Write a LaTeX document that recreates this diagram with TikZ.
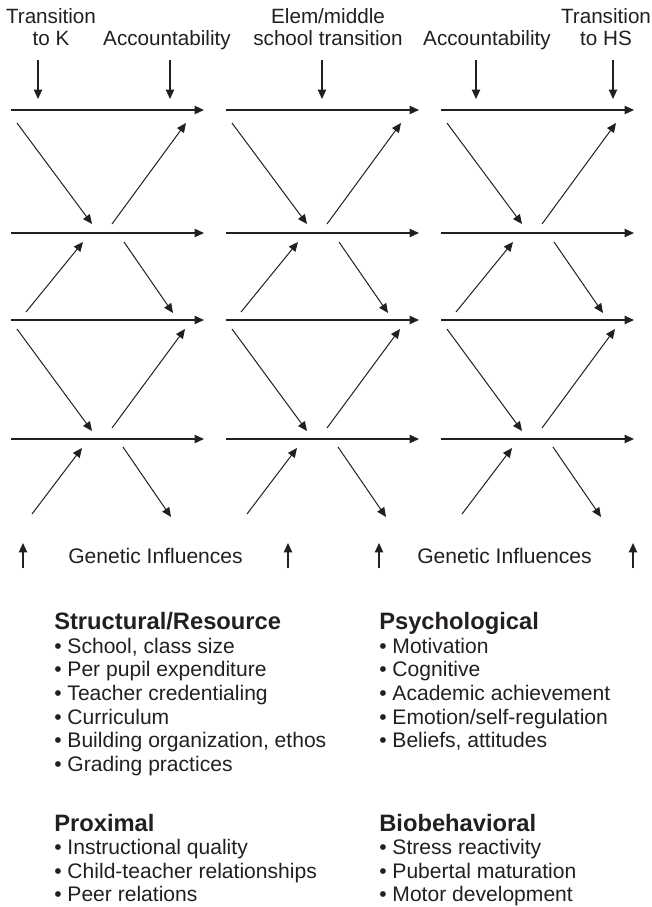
\documentclass[tikz,border=0pt]{standalone}
\usepackage{fontspec}
\setmainfont{Liberation Sans}
\usetikzlibrary{arrows.meta}
\definecolor{ink}{RGB}{35,31,32}
\begin{document}
\begin{tikzpicture}[x=0.75pt,y=-0.75pt,
  tip/.style={-{Triangle[length=7pt,width=6.2pt]}},
  flow/.style={tip, line width=1pt, draw=ink},
  link/.style={tip, line width=0.75pt, draw=ink},
  cue/.style={tip, line width=0.9pt, draw=ink},
  lbl/.style={inner sep=0pt, text=ink, font=\fontsize{15.5}{15.8}\selectfont},
  head/.style={inner sep=0pt, anchor=base west, text=ink, font=\fontsize{17.8}{20}\selectfont\bfseries},
  item/.style={inner sep=0pt, anchor=base west, text=ink, font=\fontsize{15.8}{17}\selectfont}]
\useasboundingbox (0,0) rectangle (651,907);

% three time windows, each with four developmental strands
\foreach \k/\dx in {1/0, 2/215, 3/430} {
  \foreach \r/\y in {1/110, 2/233, 3/320, 4/439} {
    \coordinate (w\k-\r-s) at (11+\dx,\y);
    \coordinate (w\k-\r-e) at (204+\dx,\y);
    \draw[flow] (w\k-\r-s) -- (w\k-\r-e);
  }
  % cross-strand influences
  \foreach \a/\b/\c/\d [count=\j] in {17/123/92/224, 112/224/186/123,
      26/312/83/242, 124/242/173/313, 17/329/92/431, 112/428/185/329,
      32/514/82/448, 123/447/171/517} {
    \coordinate (w\k-d\j-a) at (\a+\dx,\b);
    \coordinate (w\k-d\j-b) at (\c+\dx,\d);
    \draw[link] (w\k-d\j-a) -- (w\k-d\j-b);
  }
}

% school transitions and policy events
\node[lbl, anchor=base, align=center] (tk) at (51,45) {Transition\\to K};
\node[lbl, anchor=base] (acc1) at (167,45) {Accountability};
\node[lbl, anchor=base, align=center] (ems) at (328,45) {Elem/middle\\school transition};
\node[lbl, anchor=base] (acc2) at (487,45) {Accountability};
\node[lbl, anchor=base, align=center] (ths) at (606,45) {Transition\\to HS};

\foreach \n/\x in {a/38, b/170, c/322, d/476, e/613} {
  \coordinate (ev-\n-t) at (\x,60);
  \coordinate (ev-\n-b) at (\x,99);
  \draw[cue] (ev-\n-t) -- (ev-\n-b);
}

% genetic influences from below
\node[item] (gen1) at (68,563) {Genetic Influences};
\node[item] (gen2) at (417,563) {Genetic Influences};
\foreach \n/\x in {a/23, b/288, c/379, d/633} {
  \coordinate (gi-\n-b) at (\x,568);
  \coordinate (gi-\n-t) at (\x,543);
  \draw[cue] (gi-\n-b) -- (gi-\n-t);
}

% factor lists
\node[head] (sr) at (54,629.3) {Structural/Resource};
\foreach \t [count=\i] in {{School, class size}, {Per pupil expenditure},
    {Teacher credentialing}, {Curriculum}, {Building organization, ethos},
    {Grading practices}}
  \node[item] (sr-\i) at (54,629.3+23.7*\i) {•\ \t};

\node[head] (ps) at (379,629.3) {Psychological};
\foreach \t [count=\i] in {{Motivation}, {Cognitive}, {Academic achievement},
    {Emotion/self-regulation}, {Beliefs, attitudes}}
  \node[item] (ps-\i) at (379,629.3+23.7*\i) {•\ \t};

\node[head] (px) at (54,831.7) {Proximal};
\foreach \t [count=\i] in {{Instructional quality}, {Child-teacher relationships},
    {Peer relations}}
  \node[item] (px-\i) at (54,831.7+23.2*\i) {•\ \t};

\node[head] (bb) at (379,831.7) {Biobehavioral};
\foreach \t [count=\i] in {{Stress reactivity}, {Pubertal maturation},
    {Motor development}}
  \node[item] (bb-\i) at (379,831.7+23.2*\i) {•\ \t};
\end{tikzpicture}
\end{document}
